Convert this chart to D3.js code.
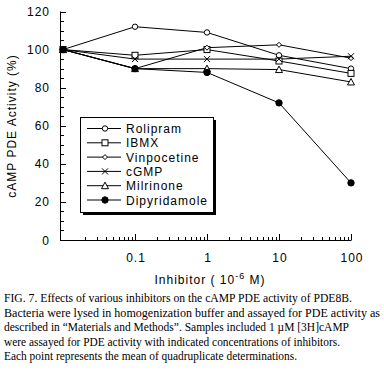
<!DOCTYPE html>
<html>
<head>
<meta charset="utf-8">
<script src="https://cdn.jsdelivr.net/npm/d3@7"></script>
<style>
  body { margin: 0; background: #fff; }
  svg { display: block; }
  .sans { font-family: Arial, "Liberation Sans", sans-serif; letter-spacing: 1px; }
  .cap { font-family: "Liberation Serif", "Times New Roman", serif; font-size: 11.5px; }
</style>
</head>
<body>
<svg id="chart"></svg>
<script>
// concentrations (10^-6 M); 0.01 stands in for "no inhibitor"
const conc = [0.01, 0.1, 1, 10, 100];
const names = ["Rolipram", "IBMX", "Vinpocetine", "cGMP", "Milrinone", "Dipyridamole"];
const rolipram = [100, 112, 109, 97, 90];
const ibmx = [100, 97, 100, 94, 87.5];
const vinpocetine = [100, 90, 101, 102.5, 95.5];
const cgmp = [100, 95, 95, 95, 96.5];
const milrinone = [100, 90, 90, 89.5, 83];
const dipyridamole = [100, 90, 88, 72, 30];
const yTicks = [0, 20, 40, 60, 80, 100, 120];
const xTickLabels = [0.1, 1, 10, 100];
const caption = [
  "FIG. 7. Effects of various inhibitors on the cAMP PDE activity of PDE8B.",
  "Bacteria were lysed in homogenization buffer and assayed for PDE activity as",
  "described in \u201CMaterials and Methods\u201D. Samples included 1 \u00B5M [3H]cAMP",
  "were assayed for PDE activity with indicated concentrations of inhibitors.",
  "Each point represents the mean of quadruplicate determinations."
];
const captionWidths = [348, 376, 345, 336, 293];

const series = [rolipram, ibmx, vinpocetine, cgmp, milrinone, dipyridamole];
const width = 384, height = 370;

const svg = d3.select("#chart").attr("width", width).attr("height", height);

const x = d3.scaleLog().domain([0.01, 100]).range([63, 351]);
const y = d3.scaleLinear().domain([0, 120]).range([240, 11.5]);
const axisLeftX = 60, axisY = 240;

const g = svg.append("g").attr("stroke", "#000").attr("fill", "none");

// axes lines
g.append("line").attr("x1", axisLeftX + 0.5).attr("x2", axisLeftX + 0.5)
  .attr("y1", y(120)).attr("y2", axisY + 0.5);
g.append("line").attr("x1", axisLeftX).attr("x2", x(100) + 0.5)
  .attr("y1", axisY + 0.5).attr("y2", axisY + 0.5);

// y ticks (inside)
d3.range(0, 121, 5).forEach(v => {
  const len = v % 20 === 0 ? 6 : 4;
  g.append("line").attr("x1", axisLeftX).attr("x2", axisLeftX + len)
    .attr("y1", Math.round(y(v)) + 0.5).attr("y2", Math.round(y(v)) + 0.5);
});
// x ticks (inside, log)
[0.01, 0.1, 1, 10].forEach(dec => {
  for (let k = 1; k <= 10; k++) {
    const v = dec * k;
    if (v === 0.01) continue;
    const len = k === 10 ? 6 : 3;
    const xx = Math.round(x(v)) + 0.5;
    g.append("line").attr("x1", xx).attr("x2", xx).attr("y1", axisY).attr("y2", axisY - len);
  }
});

// tick labels
svg.append("g").attr("class", "sans").attr("font-size", 12).attr("text-anchor", "end")
  .selectAll("text").data(yTicks).join("text")
  .attr("x", 50).attr("y", d => y(d) + 4.5).text(d => d);
svg.append("g").attr("class", "sans").attr("font-size", 12).attr("text-anchor", "middle")
  .selectAll("text").data(xTickLabels).join("text")
  .attr("x", d => x(d) + 1).attr("y", 262).text(d => d);

// axis titles
const xt = svg.append("text").attr("class", "sans").attr("font-size", 12)
  .attr("text-anchor", "middle").attr("x", 210).attr("y", 284);
xt.append("tspan").text("Inhibitor ( 10");
xt.append("tspan").attr("dy", -5).attr("font-size", 9).text("-6");
xt.append("tspan").attr("dy", 5).text(" M)");
svg.append("text").attr("class", "sans").attr("font-size", 12)
  .attr("text-anchor", "middle").attr("transform", "translate(16,126) rotate(-90)")
  .text("cAMP PDE Activity (%)");

// markers
function marker(sel, i, cx, cy) {
  const m = sel.append("g").attr("transform", `translate(${cx},${cy})`)
    .attr("stroke", "#000").attr("stroke-width", 1);
  if (i === 0) m.append("circle").attr("r", 2.7).attr("fill", "#fff");
  if (i === 1) m.append("rect").attr("x", -3).attr("y", -3).attr("width", 6).attr("height", 6).attr("fill", "#fff");
  if (i === 2) m.append("path").attr("d", "M0,-2.5L2.5,0L0,2.5L-2.5,0Z").attr("fill", "#fff");
  if (i === 3) m.append("path").attr("d", "M-3,-3L3,3M-3,3L3,-3").attr("fill", "none");
  if (i === 4) m.append("path").attr("d", "M0,-3.5L3.5,3L-3.5,3Z").attr("fill", "#fff");
  if (i === 5) m.append("circle").attr("r", 3.2).attr("fill", "#000");
}

const line = d3.line().x((d, i) => x(conc[i])).y(d => y(d));
series.forEach((s, si) => {
  svg.append("path").datum(s).attr("fill", "none").attr("stroke", "#000")
    .attr("stroke-width", 1).attr("d", line);
});
series.forEach((s, si) => {
  s.forEach((v, i) => marker(svg, si, x(conc[i]), y(v)));
});

// legend
const lx = 80, ly = 117, lw = 133, lh = 95;
svg.append("rect").attr("x", lx + 3).attr("y", ly + 3).attr("width", lw).attr("height", lh)
  .attr("fill", "#000");
svg.append("rect").attr("x", lx + 0.5).attr("y", ly + 0.5).attr("width", lw).attr("height", lh)
  .attr("fill", "#fff").attr("stroke", "#000");
const leg = svg.append("g");
names.forEach((n, i) => {
  const yy = 128.5 + i * 14.3;
  leg.append("line").attr("x1", 87).attr("x2", 121).attr("y1", yy).attr("y2", yy)
    .attr("stroke", "#000");
  marker(leg, i, 105, yy);
  leg.append("text").attr("class", "sans").attr("font-size", 12)
    .attr("x", 126).attr("y", yy + 4.5).text(n);
});

// caption
svg.append("g").attr("class", "cap").selectAll("text").data(caption).join("text")
  .attr("x", 4).attr("y", (d, i) => 302 + i * 14.6)
  .attr("textLength", (d, i) => captionWidths[i]).attr("lengthAdjust", "spacingAndGlyphs")
  .text(d => d);
</script>
</body>
</html>
